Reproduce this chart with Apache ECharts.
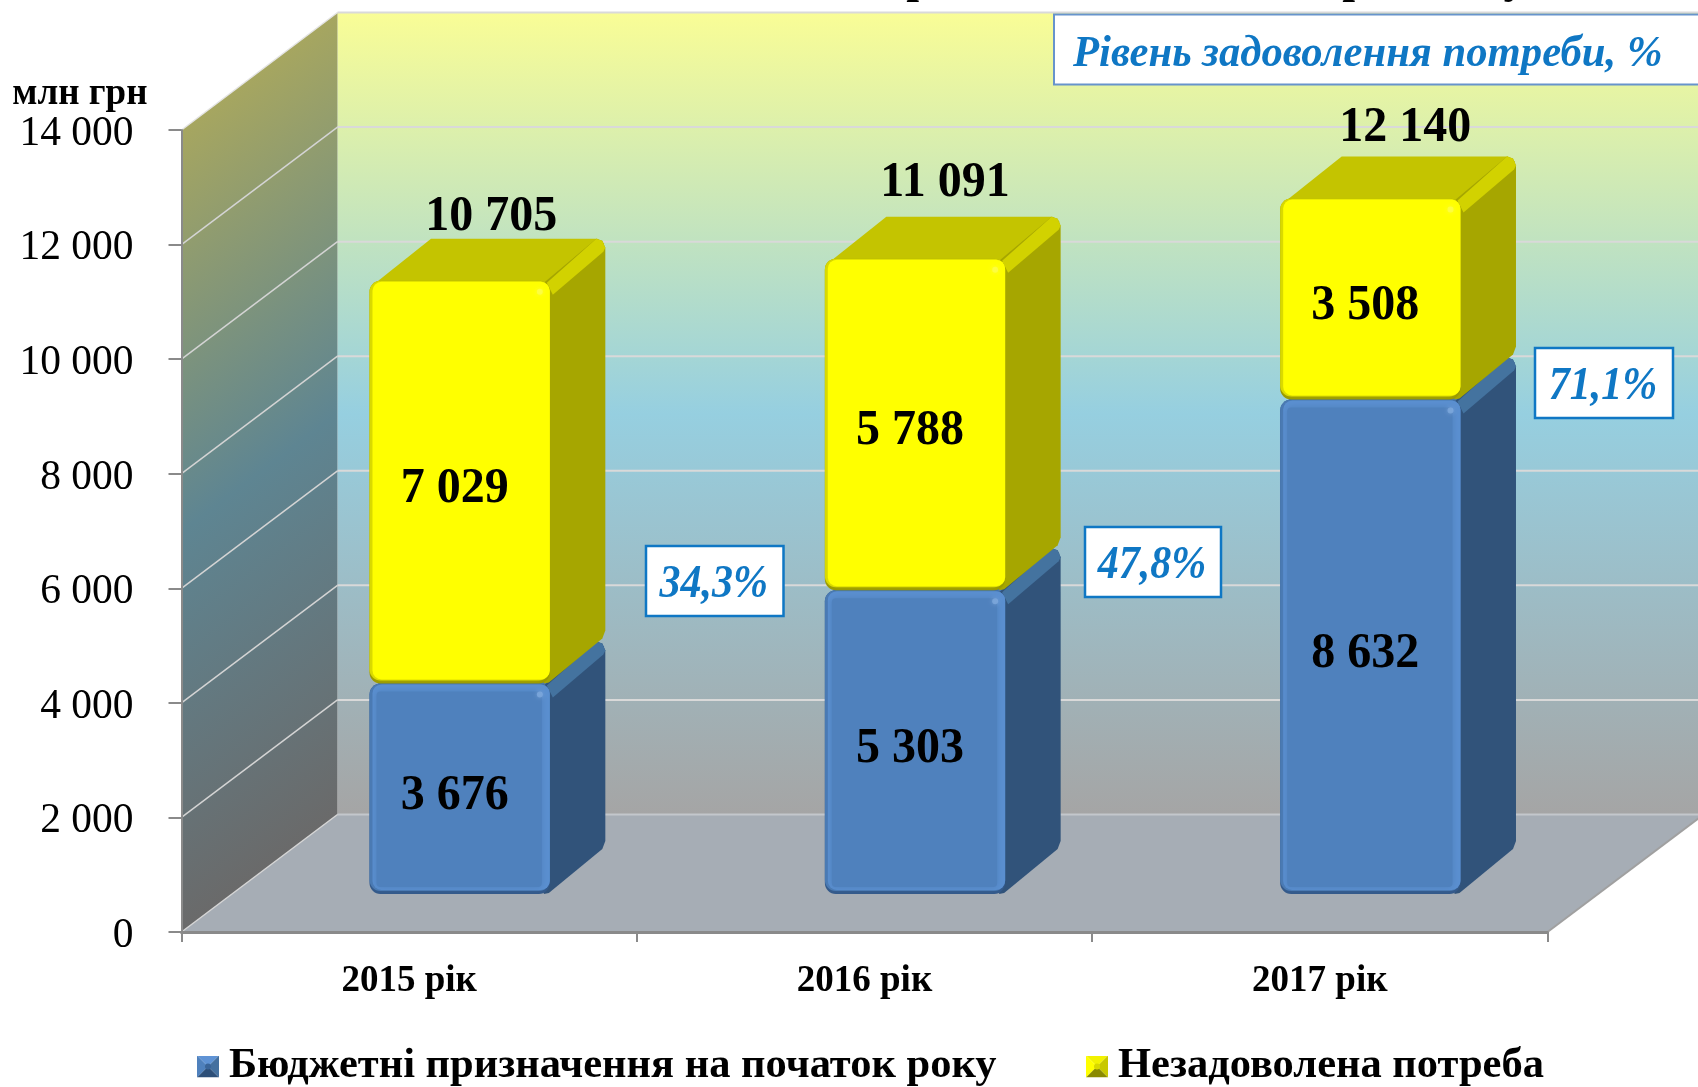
<!DOCTYPE html>
<html><head><meta charset="utf-8">
<style>html,body{margin:0;padding:0;background:#fff}#c{width:1698px;height:1087px}</style>
<script src="https://cdn.jsdelivr.net/npm/echarts@6/dist/echarts.min.js"></script>
</head><body><div id="c"></div>
<script>
const categories = ['2015 рік', '2016 рік', '2017 рік'];
const budget = [3676, 5303, 8632];
const unmet = [7029, 5788, 3508];
const totals = [10705, 11091, 12140];
const satisfied = ['34,3%', '47,8%', '71,1%'];
const yTicks = [0, 2000, 4000, 6000, 8000, 10000, 12000, 14000];
const budgetName = 'Бюджетні призначення на початок року';
const unmetName = 'Незадоволена потреба';
const unitName = 'млн грн';
const boxTitle = 'Рівень задоволення потреби, %';
const cutTitleMarks = ['р', 'р', 'у'];

const SERIF = '"Liberation Serif","Times New Roman",serif';
const WALL = {dx: 156, dy: 117.5};
const BAR = {ox: 50.5, oy: 38, dx: 55.5, dy: 42, band: 0.396};
const totalNudge = [[-1.5, 4.5], [-3, -7.5], [2, -2]];
const fmt = v => String(v).replace(/\B(?=(\d{3})+$)/g, ' ');

const BLUE = {rim:'#4a7ab3', light:'#5a8fd0', front:'#4f81bd', side:'#31537a', strip:'#44739f', top:'#4a78ad', bottom:'#33598a', glint:'#8db4e6'};
const YEL  = {rim:'#d8d800', light:'#ffff00', front:'#ffff00', side:'#a6a600', strip:'#d2d200', top:'#c4c400', bottom:'#9a9a00', glint:'#fbfb60'};

function box(x0, y0, x1, y1, c, withTop) {
  const {dx, dy} = BAR, out = [];
  if (withTop) out.push({type:'polygon', shape:{points:[[x0+5,y0+3],[x0+dx+6,y0-dy],[x1+dx-8,y0-dy],[x1+dx-1,y0-dy+5],[x1,y0+6]]}, style:{fill:c.top}});
  out.push({type:'polygon', shape:{points:[
    [x1-6,y0+2],[x1+dx-9,y0-dy],[x1+dx-3,y0-dy+2],[x1+dx,y0-dy+9],
    [x1+dx,y1-dy-11],[x1+dx-3,y1-dy-3],[x1-1,y1-1],[x1-6,y1]]}, style:{fill:c.side}});
  out.push({type:'polygon', shape:{points:[
    [x1-3,y0+2],[x1+dx-9,y0-dy],[x1+dx-3,y0-dy+2],[x1+dx,y0-dy+9],[x1+dx-2,y0-dy+13],[x1+3,y0+14]]}, style:{fill:c.strip}});
  const w = x1-x0, h = y1-y0;
  out.push({type:'rect', shape:{x:x0,y:y0,width:w,height:h,r:11}, style:{fill:c.bottom}});
  out.push({type:'rect', shape:{x:x0,y:y0,width:w,height:h-3,r:11}, style:{fill:c.rim}});
  out.push({type:'rect', shape:{x:x0+3,y:y0+1,width:w-3,height:h-5,r:9}, style:{fill:c.light}});
  out.push({type:'rect', shape:{x:x0+7,y:y0+8,width:w-15,height:h-15,r:4}, style:{fill:c.front, shadowBlur:6, shadowColor:c.front}});
  out.push({type:'circle', shape:{cx:x1-10,cy:y0+11,r:3}, style:{fill:c.glint, opacity:0.55, shadowBlur:4, shadowColor:c.glint}});
  return out;
}
function label(text, x, y) {
  return {type:'text', z2:50, x, y, scaleX:0.96, style:{text, x:0, y:0, align:'center', verticalAlign:'middle', font:'bold 50px '+SERIF, fill:'#000'}};
}
function segmentFrame(api, base, value) {
  const cat = api.value(0);
  const a = api.coord([cat, base]), b = api.coord([cat, base + value]);
  const w = api.size([1, 0])[0] * BAR.band;
  const x0 = a[0] + BAR.ox - w/2;
  return {x0, x1: x0 + w, y0: b[1] - BAR.oy, y1: a[1] - BAR.oy};
}

function renderWalls(params, api) {
  const cs = params.coordSys, L = cs.x, R = cs.x + cs.width;
  const y0 = api.coord([0, 0])[1], yT = api.coord([0, yTicks[yTicks.length-1]])[1];
  const {dx, dy} = WALL, kids = [];
  const stops = [{offset:0,color:'#f9fd96'},{offset:0.5,color:'#96cfe0'},{offset:1,color:'#a5a5a5'}];
  const dark = [{offset:0,color:'#a6a660'},{offset:0.5,color:'#5e8592'},{offset:1,color:'#6a6a6a'}];
  kids.push({type:'polygon', shape:{points:[[L+dx,yT-dy],[R+dx,yT-dy],[R+dx,y0-dy],[L+dx,y0-dy]]},
    style:{fill:{type:'linear',x:0,y:0,x2:0,y2:1,colorStops:stops}}});
  kids.push({type:'polygon', shape:{points:[[L,y0],[L,yT],[L+dx,yT-dy],[L+dx,y0-dy]]},
    style:{fill:{type:'linear',global:true,x:L+dx,y:yT-dy,x2:L+dx+386,y2:yT-dy+510,colorStops:dark}}});
  kids.push({type:'polygon', shape:{points:[[L,y0],[R,y0],[R+dx,y0-dy],[L+dx,y0-dy]]}, style:{fill:'#a6adb5'}});
  yTicks.forEach(t => {
    const y = api.coord([0, t])[1];
    const col = t === 0 ? '#c3c7cc' : '#d9d9d9';
    kids.push({type:'line', shape:{x1:L+dx,y1:y-dy,x2:R+dx,y2:y-dy}, style:{stroke:col,lineWidth:2}});
    kids.push({type:'line', shape:{x1:L,y1:y,x2:L+dx,y2:y-dy}, style:{stroke:t===yTicks[yTicks.length-1]?'#e4e4e4':'#d4d4d4',lineWidth:1.5}});
  });
  kids.push({type:'line', shape:{x1:R,y1:y0,x2:R+dx,y2:y0-dy}, style:{stroke:'#a0a0a0',lineWidth:2}});
  return {type:'group', children:kids};
}
function renderBudget(params, api) {
  const v = api.value(1), f = segmentFrame(api, 0, v);
  return {type:'group', children: box(f.x0, f.y0, f.x1, f.y1, BLUE, true)
    .concat([label(fmt(v), (f.x0+f.x1)/2 - 5, (f.y0+f.y1)/2 + 7)])};
}
function renderUnmet(params, api) {
  const base = api.value(1), v = api.value(2), f = segmentFrame(api, base, v);
  const n = totalNudge[api.value(0)];
  return {type:'group', children: box(f.x0, f.y0, f.x1, f.y1, YEL, true).concat([
    label(fmt(v), (f.x0+f.x1)/2 - 5, (f.y0+f.y1)/2 + 7),
    label(fmt(api.value(3)), (f.x0+f.x1)/2 + 33 + n[0], f.y0 - BAR.dy - 26 + n[1])
  ])};
}
const bevel = (t,l,r,b,m) => 'image://data:image/svg+xml,' + encodeURIComponent(
 `<svg xmlns="http://www.w3.org/2000/svg" width="22" height="22"><polygon points="0,0 22,0 11,11" fill="${t}"/><polygon points="0,0 11,11 0,22" fill="${l}"/><polygon points="22,0 11,11 22,22" fill="${r}"/><polygon points="0,22 22,22 11,11" fill="${b}"/><circle cx="11" cy="11" r="3" fill="${m}"/></svg>`);

const chart = echarts.init(document.getElementById('c'), null, {renderer:'canvas'});
const legendText = {fontFamily:SERIF, fontWeight:'bold', fontSize:42.5, color:'#000', padding:[0,0,0,5]};
const boxes = [[646,546,137.5,70],[1085,527,136,70],[1535,348,138,70]];
const cutMarkX = [919, 1355, 1515];
chart.setOption({
  animation:false,
  backgroundColor:'#fff',
  grid:{left:181.5, right:1698-1547.5, top:130, bottom:1087-932, containLabel:false},
  xAxis:{type:'category', data:categories, z:3,
    axisLine:{show:true,lineStyle:{color:'#8a8a8a',width:3}},
    axisTick:{show:true,alignWithLabel:false,length:10,lineStyle:{color:'#8a8a8a',width:2}},
    axisLabel:{fontFamily:SERIF,fontWeight:'bold',fontSize:37,color:'#000',margin:31}},
  yAxis:{type:'value', min:0, max:14000, interval:2000, z:3,
    name:unitName, nameLocation:'end', nameGap:17, nameMoveOverlap:false,
    nameTextStyle:{fontFamily:SERIF,fontWeight:'bold',fontSize:37,color:'#000',align:'right',padding:[0,34,0,0]},
    axisLine:{show:true,lineStyle:{color:'#8a8a8a',width:2}},
    axisTick:{show:true,length:13,lineStyle:{color:'#8a8a8a',width:2}},
    splitLine:{show:false},
    axisLabel:{fontFamily:SERIF,fontSize:41.5,color:'#000',margin:48,verticalAlign:'top',lineHeight:8,formatter:v=>fmt(v)}},
  legend:[
    {data:[{name:budgetName,icon:bevel('#5f93d5','#4f81bd','#44709f','#2c4e78','#3a6599')}],
     left:192,top:1040,itemWidth:22,itemHeight:22,itemGap:0,textStyle:legendText,selectedMode:false},
    {data:[{name:unmetName,icon:bevel('#f2f200','#ffff00','#c8c800','#8a8a00','#d8d800')}],
     left:1081,top:1040,itemWidth:22,itemHeight:22,itemGap:0,textStyle:legendText,selectedMode:false}],
  series:[
    {type:'custom',name:'walls',z:0,silent:true,renderItem:renderWalls,data:[[0]],encode:{x:0}},
    {type:'custom',name:budgetName,z:2,silent:true,renderItem:renderBudget,itemStyle:{color:'#4f81bd'},
      data:budget.map((v,i)=>[i,v]),encode:{x:0,y:1}},
    {type:'custom',name:unmetName,z:3,silent:true,renderItem:renderUnmet,itemStyle:{color:'#ffff00'},
      data:unmet.map((v,i)=>[i,budget[i],v,totals[i]]),encode:{x:0,y:2}}
  ],
  graphic:{elements:[
    ...boxes.map((b,i)=>({type:'rect',z:20,shape:{x:b[0],y:b[1],width:b[2],height:b[3]},style:{fill:'#fff',stroke:'#0f77c4',lineWidth:2.5}})),
    ...boxes.map((b,i)=>({type:'text',z:21,x:b[0]+b[2]/2-1,y:b[1]+b[3]/2+4,scaleY:1.08,style:{text:satisfied[i],x:0,y:0,align:'center',verticalAlign:'middle',font:'italic bold 42px '+SERIF,fill:'#0f77c4'}})),
    {type:'rect',z:20,shape:{x:1054,y:14.5,width:660,height:70},style:{fill:'#fff',stroke:'#6794cc',lineWidth:2}},
    {type:'text',z:21,x:1073,y:54,scaleY:1.05,style:{text:boxTitle,x:0,y:0,align:'left',verticalAlign:'middle',font:'italic bold 42.7px '+SERIF,fill:'#0f77c4'}},
    ...cutTitleMarks.map((m,i)=>({type:'text',z:21,style:{text:m,x:cutMarkX[i],y:3,align:'center',verticalAlign:'bottom',font:'bold 46px '+SERIF,fill:'#000'}}))
  ]}
});
</script></body></html>
